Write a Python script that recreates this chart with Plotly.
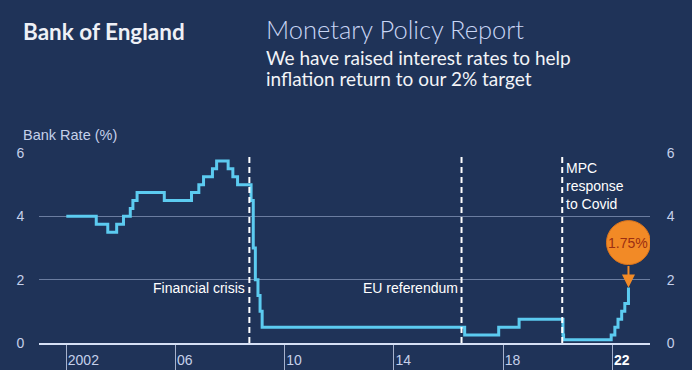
import plotly.graph_objects as go

# ---- data ----
rate_dates = ["2002-01-01", "2003-02-06", "2003-07-10", "2003-11-06", "2004-02-05",
              "2004-05-06", "2004-06-10", "2004-08-05", "2005-08-04", "2006-08-03",
              "2006-11-09", "2007-01-11", "2007-05-10", "2007-07-05", "2007-12-06",
              "2008-02-07", "2008-04-10", "2008-10-08", "2008-11-06", "2008-12-04",
              "2009-01-08", "2009-02-05", "2009-03-05", "2016-08-04", "2017-11-02",
              "2018-08-02", "2020-03-11", "2020-03-19", "2021-12-16", "2022-02-03",
              "2022-03-17", "2022-05-05", "2022-06-16", "2022-08-04"]
rates = [4.0, 3.75, 3.5, 3.75, 4.0, 4.25, 4.5, 4.75, 4.5, 4.75,
         5.0, 5.25, 5.5, 5.75, 5.5, 5.25, 5.0, 4.5, 3.0, 2.0,
         1.5, 1.0, 0.5, 0.25, 0.5, 0.75, 0.25, 0.1, 0.25, 0.5,
         0.75, 1.0, 1.25, 1.75]

tick_dates = ["2002-01-01", "2006-01-01", "2010-01-01", "2014-01-01", "2018-01-01", "2022-01-01"]
tick_labels = ["2002", "06", "10", "14", "18", "<b><span style='color:#ffffff'>22</span></b>"]
y_ticks = [0, 2, 4, 6]

event_dates = ["2008-09-15", "2016-06-23", "2020-03-01"]
event_labels = ["Financial crisis", "EU referendum", "MPC<br>response<br>to Covid"]

latest_label = "1.75%"

header_org = "Bank of England"
header_title = "Monetary Policy Report"
header_lines = ["We have raised interest rates to help", "inflation return to our 2% target"]
y_axis_title = "Bank Rate (%)"

# ---- layout geometry ----
W, H = 692, 370
ML, MR, MT, MB = 39, 42, 153, 27
PW, PH = W - ML - MR, H - MT - MB


def px_x(px):
    return (px - ML) / PW


def px_y(py):
    return (H - MB - py) / PH


BG = "#1f3358"
TICK_C = "#c5d0ea"
GRID_C = "rgba(170,185,220,0.55)"
LINE_C = "#5ccbf0"
ORANGE = "#f28a26"

fig = go.Figure()
fig.add_trace(go.Scatter(x=rate_dates, y=rates, mode="lines", line_shape="hv",
                         line=dict(color=LINE_C, width=3), hoverinfo="skip",
                         showlegend=False))
fig.add_trace(go.Scatter(x=rate_dates, y=rates, mode="lines", yaxis="y2",
                         line=dict(color="rgba(0,0,0,0)", width=0), hoverinfo="skip",
                         showlegend=False))

axis_font = dict(family="Liberation Sans, Arial, sans-serif", size=14, color=TICK_C)

fig.update_layout(
    width=W, height=H,
    margin=dict(l=ML, r=MR, t=MT, b=MB, autoexpand=False),
    paper_bgcolor=BG, plot_bgcolor=BG,
    showlegend=False,
    xaxis=dict(type="date", range=["2001-01-01", "2023-05-19"], automargin=False,
               tickvals=tick_dates, ticktext=tick_labels,
               ticks="outside", ticklen=27, tickwidth=1, tickcolor="rgba(200,210,235,0.8)",
               ticklabelposition="outside right", ticklabelstandoff=3,
               tickfont=axis_font, showgrid=False, zeroline=False,
               showline=True, linecolor="#d6e0f5", linewidth=2),
    yaxis=dict(range=[0, 6], tickvals=y_ticks, tickfont=axis_font, automargin=False,
               showgrid=True, gridcolor=GRID_C, gridwidth=1, zeroline=False,
               ticks="outside", ticklen=11, tickcolor="rgba(0,0,0,0)"),
    yaxis2=dict(range=[0, 6], tickvals=y_ticks, tickfont=axis_font, overlaying="y",
                side="right", showgrid=False, zeroline=False, automargin=False,
                ticks="outside", ticklen=13, tickcolor="rgba(0,0,0,0)"),
)

# event dashed lines + labels
for d in event_dates:
    fig.add_shape(type="line", xref="x", yref="paper", x0=d, x1=d, y0=0, y1=1,
                  line=dict(color="#ffffff", width=2, dash="6px,4px"), layer="above")

txt_font = dict(family="Liberation Sans, Arial, sans-serif", size=14, color="#ffffff")
fig.add_annotation(x=event_dates[0], y=1.74, xref="x", yref="y", text=event_labels[0],
                   showarrow=False, xanchor="right", yanchor="middle", xshift=-2, font=txt_font)
fig.add_annotation(x=event_dates[1], y=1.74, xref="x", yref="y", text=event_labels[1],
                   showarrow=False, xanchor="right", yanchor="middle", xshift=-2, font=txt_font)
fig.add_annotation(x=event_dates[2], y=5.83, xref="x", yref="y", text=event_labels[2],
                   showarrow=False, xanchor="left", yanchor="top", xshift=2, align="left",
                   font=txt_font)

# latest rate bubble
last_x, last_y = rate_dates[-1], rates[-1]
fig.add_shape(type="circle", xref="x", yref="y", xsizemode="pixel", ysizemode="pixel",
              xanchor=last_x, yanchor=last_y, x0=-22, x1=22, y0=23, y1=67,
              fillcolor=ORANGE, line=dict(color="#d9731c", width=1), layer="above")
fig.add_annotation(x=last_x, y=last_y, xref="x", yref="y", text=latest_label,
                   showarrow=False, yshift=45, xshift=0,
                   font=dict(family="Liberation Sans, Arial, sans-serif", size=14, color="#9b2e12"))
fig.add_annotation(x=last_x, y=last_y, xref="x", yref="y", text="",
                   showarrow=True, ax=0, ay=-23, arrowhead=2, arrowsize=1.3,
                   arrowwidth=2, arrowcolor=ORANGE, standoff=0)

# header texts
fig.add_annotation(x=px_x(21), y=px_y(31.5), xref="paper", yref="paper",
                   text="<b>" + header_org + "</b>", showarrow=False, xanchor="left",
                   yanchor="middle",
                   font=dict(family="Lato, sans-serif", size=22.5, color="#eef0f6"))
fig.add_annotation(x=px_x(264), y=px_y(28.5), xref="paper", yref="paper",
                   text=header_title, showarrow=False, xanchor="left", yanchor="middle",
                   font=dict(family="Lato, sans-serif", size=25.5, color="#c9d6f5", weight=300))
for line_text, cy in zip(header_lines, [57.5, 79]):
    fig.add_annotation(x=px_x(264), y=px_y(cy), xref="paper", yref="paper",
                       text=line_text, showarrow=False, xanchor="left", yanchor="middle",
                       font=dict(family="Lato, sans-serif", size=19, color="#f2f3f7"))
fig.add_annotation(x=px_x(21), y=px_y(134.5), xref="paper", yref="paper",
                   text=y_axis_title, showarrow=False, xanchor="left", yanchor="middle",
                   font=dict(family="Liberation Sans, Arial, sans-serif", size=14.5, color=TICK_C))

fig.write_html("out.html", config={"displayModeBar": False},
               post_script="document.body.style.margin='0';document.body.style.padding='0';document.body.style.overflow='hidden';")
